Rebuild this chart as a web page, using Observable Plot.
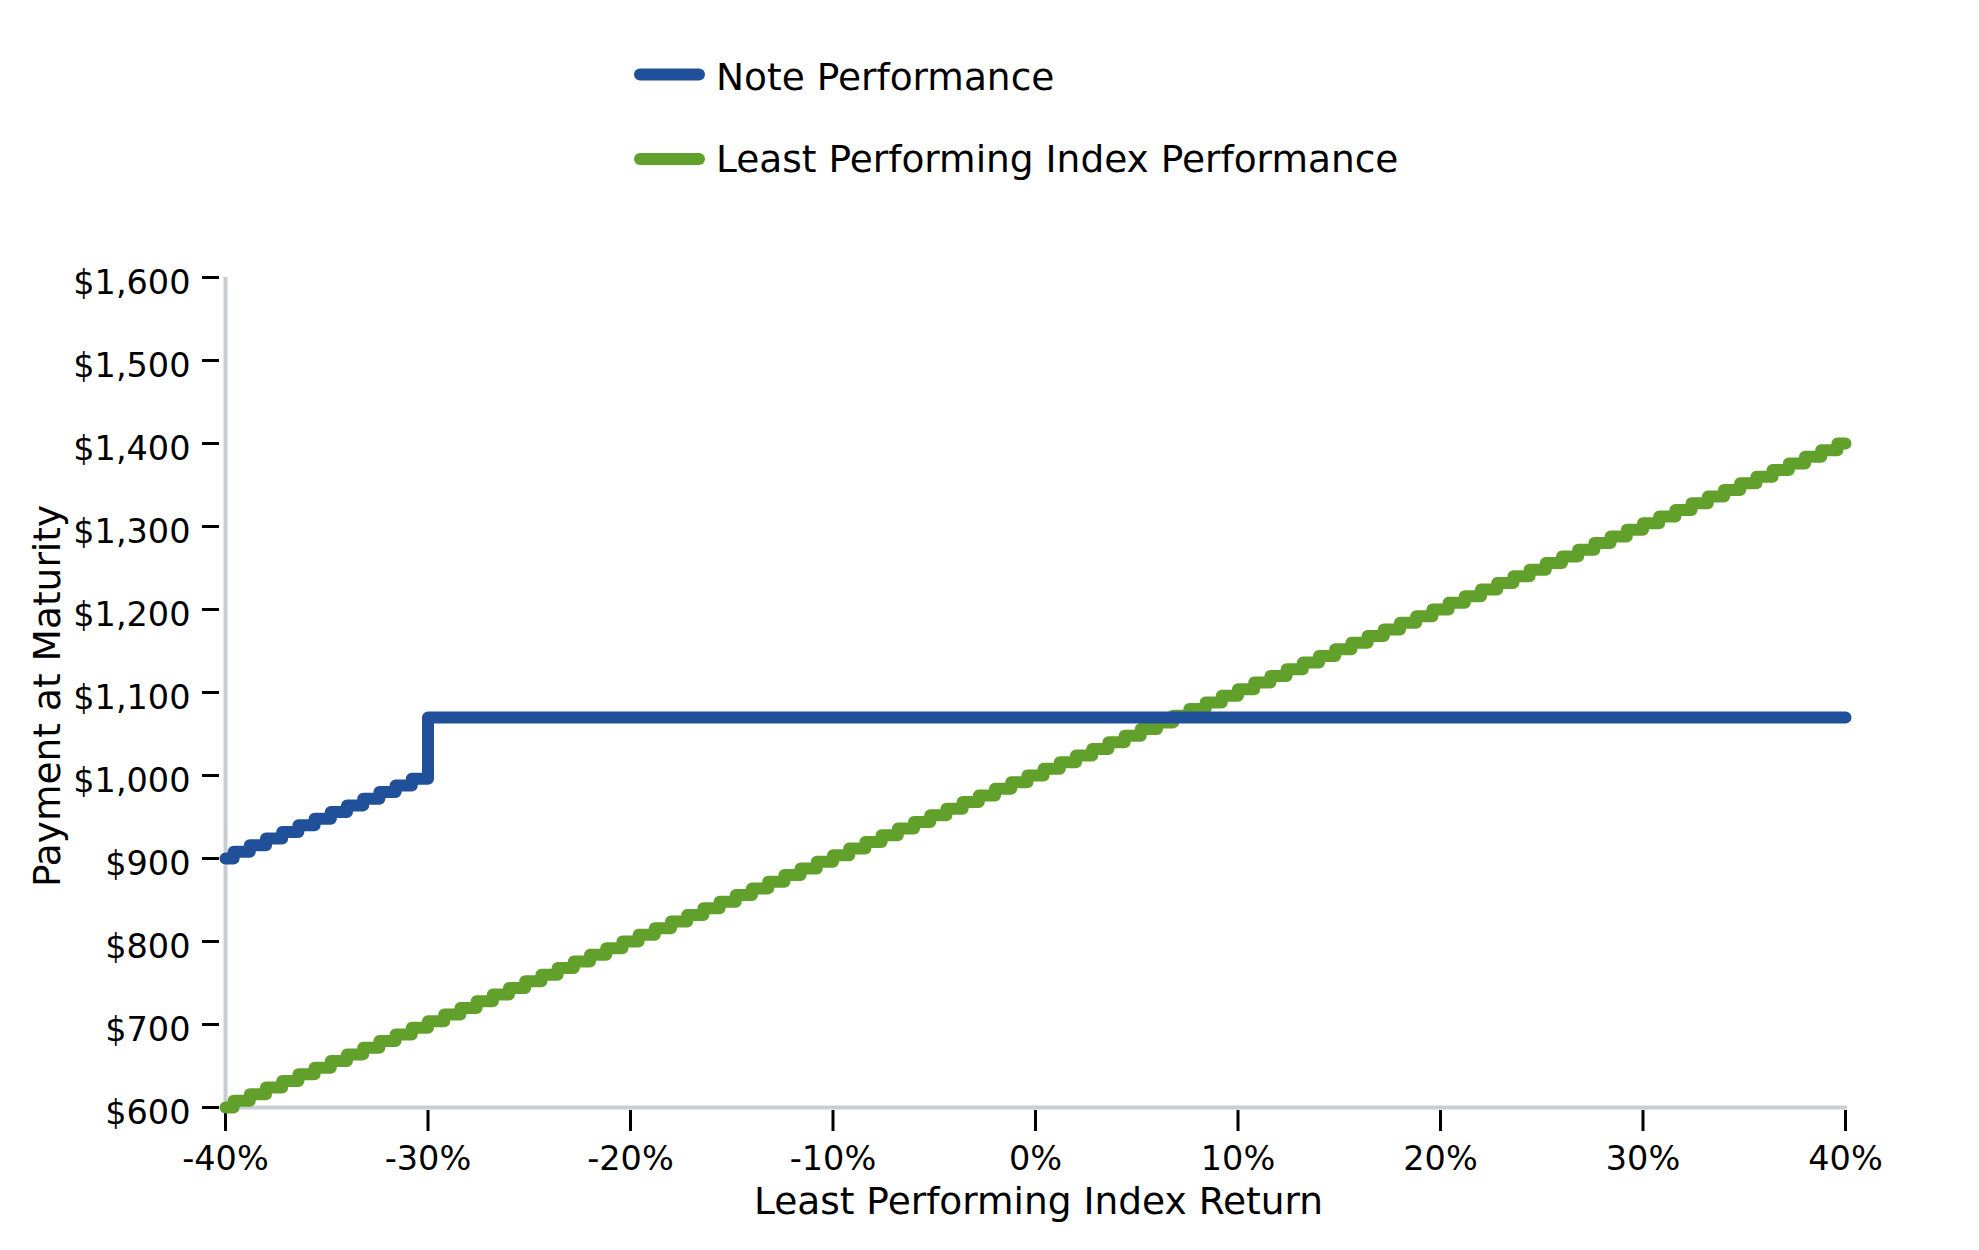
<!DOCTYPE html>
<html>
<head>
<meta charset="utf-8">
<script src="https://cdn.jsdelivr.net/npm/d3@7"></script>
<script src="https://cdn.jsdelivr.net/npm/@observablehq/plot@0.6"></script>
<style>
  html, body { margin: 0; padding: 0; background: #ffffff; }
  body { width: 1979px; height: 1250px; overflow: hidden; font-family: "DejaVu Sans", sans-serif; }
  #legend, #chart { display: block; }
  #chart svg { display: block; }
</style>
</head>
<body>
<div id="legend"></div>
<div id="chart"></div>
<script>
// ---- data ----
const returns = [
  -40, -39.2, -38.4, -37.6, -36.8, -36, -35.2, -34.4, -33.6, -32.8,
  -32, -31.2, -30.4, -29.6, -28.8, -28, -27.2, -26.4, -25.6, -24.8,
  -24, -23.2, -22.4, -21.6, -20.8, -20, -19.2, -18.4, -17.6, -16.8,
  -16, -15.2, -14.4, -13.6, -12.8, -12, -11.2, -10.4, -9.6, -8.8,
  -8, -7.2, -6.4, -5.6, -4.8, -4, -3.2, -2.4, -1.6, -0.8,
  0, 0.8, 1.6, 2.4, 3.2, 4, 4.8, 5.6, 6.4, 7.2,
  8, 8.8, 9.6, 10.4, 11.2, 12, 12.8, 13.6, 14.4, 15.2,
  16, 16.8, 17.6, 18.4, 19.2, 20, 20.8, 21.6, 22.4, 23.2,
  24, 24.8, 25.6, 26.4, 27.2, 28, 28.8, 29.6, 30.4, 31.2,
  32, 32.8, 33.6, 34.4, 35.2, 36, 36.8, 37.6, 38.4, 39.2,
  40
];
const notePayment = [
  900, 908, 916, 924, 932, 940, 948, 956, 964, 972,
  980, 988, 996, 1070, 1070, 1070, 1070, 1070, 1070, 1070,
  1070, 1070, 1070, 1070, 1070, 1070, 1070, 1070, 1070, 1070,
  1070, 1070, 1070, 1070, 1070, 1070, 1070, 1070, 1070, 1070,
  1070, 1070, 1070, 1070, 1070, 1070, 1070, 1070, 1070, 1070,
  1070, 1070, 1070, 1070, 1070, 1070, 1070, 1070, 1070, 1070,
  1070, 1070, 1070, 1070, 1070, 1070, 1070, 1070, 1070, 1070,
  1070, 1070, 1070, 1070, 1070, 1070, 1070, 1070, 1070, 1070,
  1070, 1070, 1070, 1070, 1070, 1070, 1070, 1070, 1070, 1070,
  1070, 1070, 1070, 1070, 1070, 1070, 1070, 1070, 1070, 1070,
  1070
];
const indexPayment = [
  600, 608, 616, 624, 632, 640, 648, 656, 664, 672,
  680, 688, 696, 704, 712, 720, 728, 736, 744, 752,
  760, 768, 776, 784, 792, 800, 808, 816, 824, 832,
  840, 848, 856, 864, 872, 880, 888, 896, 904, 912,
  920, 928, 936, 944, 952, 960, 968, 976, 984, 992,
  1000, 1008, 1016, 1024, 1032, 1040, 1048, 1056, 1064, 1072,
  1080, 1088, 1096, 1104, 1112, 1120, 1128, 1136, 1144, 1152,
  1160, 1168, 1176, 1184, 1192, 1200, 1208, 1216, 1224, 1232,
  1240, 1248, 1256, 1264, 1272, 1280, 1288, 1296, 1304, 1312,
  1320, 1328, 1336, 1344, 1352, 1360, 1368, 1376, 1384, 1392,
  1400
];
const xTicks = [-40, -30, -20, -10, 0, 10, 20, 30, 40];
const yTicks = [600, 700, 800, 900, 1000, 1100, 1200, 1300, 1400, 1500, 1600];
const seriesNames = ["Note Performance", "Least Performing Index Performance"];
const seriesColors = ["#21509a", "#62a02c"];
const xLabel = "Least Performing Index Return";
const yLabel = "Payment at Maturity";

// ---- styles ----
const FONT = "DejaVu Sans";
const labelSize = 37.5;
const tickSize = 33.5;
const spine = "#c8cdd3";
const lineW = 12;

const rows = returns.map((r, i) => ({r, note: notePayment[i], index: indexPayment[i]}));

// ---- legend (above the plot SVG) ----
const legendH = 200;
const lg = d3.select("#legend").append("svg")
  .attr("width", 1979).attr("height", legendH)
  .style("display", "block");
const legendRows = [{y: 74.5, base: 90}, {y: 159, base: 171.5}];
seriesNames.forEach((name, i) => {
  lg.append("line")
    .attr("x1", 640).attr("x2", 699)
    .attr("y1", legendRows[i].y).attr("y2", legendRows[i].y)
    .attr("stroke", seriesColors[i]).attr("stroke-width", lineW)
    .attr("stroke-linecap", "round");
  lg.append("text")
    .attr("x", 716).attr("y", legendRows[i].base)
    .attr("font-family", FONT).attr("font-size", labelSize)
    .attr("fill", "#000")
    .text(name);
});

// ---- plot ----
const chart = Plot.plot({
  width: 1979,
  height: 1050,
  marginLeft: 225,
  marginRight: 134,
  marginTop: 77,
  marginBottom: 143,
  style: {fontFamily: FONT, background: "#ffffff", color: "#000", overflow: "visible"},
  x: {domain: [xTicks[0], xTicks[xTicks.length - 1]], axis: null},
  y: {domain: [yTicks[0], yTicks[yTicks.length - 1]], axis: null},
  marks: [
    // spines
    Plot.ruleX([xTicks[0]], {y1: yTicks[0], y2: yTicks[yTicks.length - 1], stroke: spine, strokeWidth: 4}),
    Plot.ruleY([yTicks[0]], {x1: xTicks[0], x2: xTicks[xTicks.length - 1], stroke: spine, strokeWidth: 4, strokeLinecap: "square"}),
    // x ticks + labels
    Plot.axisX(xTicks, {anchor: "bottom", tickSize: 21, dy: 3, tickFormat: () => "", label: null, stroke: "#000", strokeWidth: 3}),
    Plot.axisX(xTicks, {anchor: "bottom", tickSize: 0, tickPadding: 39, tickFormat: d => d + "%", label: null, fontSize: tickSize, fill: "#000"}),
    // y ticks + labels
    Plot.axisY(yTicks, {anchor: "left", tickSize: 17, dx: -6, tickFormat: () => "", label: null, stroke: "#000", strokeWidth: 3}),
    Plot.axisY(yTicks, {anchor: "left", tickSize: 0, tickPadding: 35, dy: 6, tickFormat: d => "$" + d3.format(",")(d), label: null, fontSize: tickSize, fill: "#000"}),
    // axis titles
    Plot.text([xLabel], {text: d => d, frameAnchor: "bottom", textAnchor: "middle", lineAnchor: "middle", dy: 94, dx: 3, fontSize: labelSize, fill: "#000"}),
    Plot.text([yLabel], {text: d => d, frameAnchor: "left", textAnchor: "middle", lineAnchor: "middle", rotate: -90, dx: -178, dy: 3.5, fontSize: labelSize, fill: "#000"}),
    // series
    Plot.line(rows, {x: "r", y: "index", curve: "step", stroke: seriesColors[1], strokeWidth: lineW, strokeLinecap: "round", strokeLinejoin: "round"}),
    Plot.line(rows, {x: "r", y: "note", curve: "step", stroke: seriesColors[0], strokeWidth: lineW, strokeLinecap: "round", strokeLinejoin: "round"})
  ]
});
document.getElementById("chart").appendChild(chart);
</script>
</body>
</html>
